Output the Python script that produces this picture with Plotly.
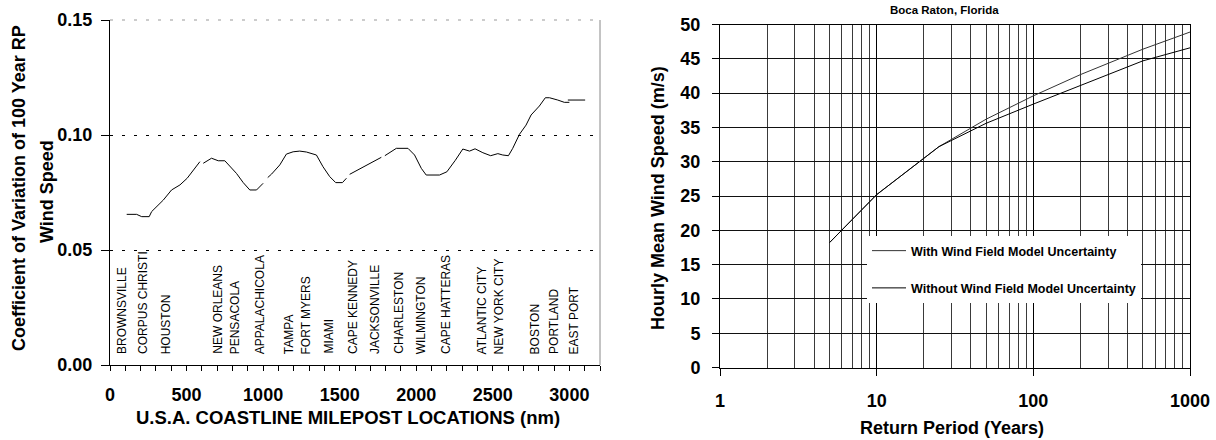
import plotly.graph_objects as go

FONT = "Arial, 'Liberation Sans', sans-serif"
W, H = 1216, 440

# ---------------- Left chart data ----------------
mile_nm = [109, 174, 207, 256, 272, 348, 402, 457, 504, 543, 587, None,
           609, 663, 707, 750, 826, 870, 913, 957, 1000, None,
           1030, 1055, 1109, 1152, 1196, 1239, 1283, 1348, 1391, 1435, 1474, 1518, 1544, None,
           1565, 1620, 1696, 1772, None,
           1795, 1870, 1946, 1989, 2033, 2065, 2152, 2200, 2255, 2304, 2348, 2384, 2435,
           2486, 2533, 2565, 2602, 2630, 2674, 2717, 2750, 2804, 2843, 2870, 2924, 2967, 3000, None,
           2990, 3103]
cov = [0.0655, 0.0655, 0.0645, 0.0645, 0.0667, 0.0717, 0.0761, 0.0783, 0.0812, 0.0848, 0.0884, None,
       0.0877, 0.0899, 0.0888, 0.0888, 0.0833, 0.0793, 0.0761, 0.0761, 0.0790, None,
       0.0815, 0.0830, 0.0870, 0.0917, 0.0927, 0.0930, 0.0926, 0.0913, 0.0862, 0.0819, 0.0793, 0.0793, 0.0812, None,
       0.0829, 0.0848, 0.0874, 0.0903, None,
       0.0910, 0.0942, 0.0942, 0.0913, 0.0855, 0.0826, 0.0826, 0.0840, 0.0890, 0.0939, 0.0930, 0.0940, 0.0923,
       0.0910, 0.0919, 0.0913, 0.0910, 0.0942, 0.1003, 0.1043, 0.1087, 0.1126, 0.1162, 0.1162, 0.1152, 0.1142, 0.1142, None,
       0.1152, 0.1152]

city_names = ["BROWNSVILLE", "CORPUS CHRISTI", "HOUSTON", "NEW ORLEANS", "PENSACOLA",
              "APPALACHICOLA", "TAMPA", "FORT MYERS", "MIAMI", "CAPE KENNEDY", "JACKSONVILLE",
              "CHARLESTON", "WILMINGTON", "CAPE HATTERAS", "ATLANTIC CITY", "NEW YORK CITY",
              "BOSTON", "PORTLAND", "EAST PORT"]
city_nm = [75, 212, 368, 700, 815, 978, 1170, 1283, 1424, 1587, 1728, 1885, 2033, 2191,
           2432, 2543, 2778, 2896, 3033]

left_x_ticks = list(range(0, 3201, 100))
left_x_labels = [str(v) if v % 500 == 0 else "" for v in left_x_ticks]
left_y_ticks = [0.0, 0.05, 0.10, 0.15]

# ---------------- Right chart data ----------------
return_period = [5, 10, 25, 50, 100, 200, 500, 1000]
speed_with = [18.2, 25.2, 32.2, 36.2, 39.6, 42.7, 46.4, 48.9]
speed_without = [18.2, 25.2, 32.2, 35.6, 38.4, 41.1, 44.7, 46.6]
rp_major = [1, 10, 100, 1000]
rp_minor = [m * d for d in (1, 10, 100) for m in range(2, 10)]

B = dict(family=FONT, size=18, color="black")

fig = go.Figure()

fig.add_trace(go.Scatter(x=mile_nm, y=cov, mode="lines", line=dict(color="black", width=1),
                         connectgaps=False, showlegend=False, xaxis="x", yaxis="y",
                         hoverinfo="skip"))

fig.add_trace(go.Scatter(x=return_period, y=speed_with, mode="lines",
                         name="<b>With Wind Field Model Uncertainty</b>",
                         line=dict(color="#333333", width=1), xaxis="x2", yaxis="y2",
                         legendgroup="a"))
fig.add_trace(go.Scatter(x=return_period, y=speed_without, mode="lines",
                         name="<b>Without Wind Field Model Uncertainty</b>",
                         line=dict(color="black", width=1), xaxis="x2", yaxis="y2",
                         legendgroup="b"))

lx = [110 / W, 600 / W]
ly = [1 - 365 / H, 1 - 20 / H]
rx = [720 / W, 1190 / W]
ry = [1 - 367.5 / H, 1 - 24.5 / H]

TF = dict(family=FONT, size=18, color="black", weight="bold")

fig.update_layout(
    width=W, height=H,
    margin=dict(l=0, r=0, t=0, b=0, autoexpand=False),
    paper_bgcolor="white", plot_bgcolor="white",
    font=dict(family=FONT, color="black"),
    xaxis=dict(domain=lx, range=[0, 3200], anchor="y", showgrid=False, zeroline=False,
               showline=True, linecolor="black", linewidth=1,
               tickmode="array", tickvals=left_x_ticks, ticktext=left_x_labels,
               ticks="outside", ticklen=5, tickcolor="black", ticklabelstandoff=8,
               tickfont=TF),
    xaxis3=dict(overlaying="x", anchor="y", range=[0, 3200], showgrid=False, zeroline=False,
                tickmode="array", tickvals=left_x_ticks, showticklabels=False,
                ticks="inside", ticklen=5, tickcolor="black", showline=False),
    yaxis=dict(domain=ly, range=[0, 0.15], anchor="x", zeroline=False,
               showline=True, linecolor="black", linewidth=1,
               tickmode="array", tickvals=left_y_ticks, tickformat=".2f",
               ticks="outside", ticklen=8, tickcolor="black", ticklabelstandoff=5,
               showgrid=True, gridcolor="black", gridwidth=1, griddash="3px,9px",
               tickfont=TF),
    xaxis2=dict(domain=rx, type="log", range=[0, 3], anchor="y2", zeroline=False,
                showline=True, linecolor="black", linewidth=1, mirror=True,
                tickmode="array", tickvals=rp_major, ticktext=[str(v) for v in rp_major],
                ticks="outside", ticklen=7, tickcolor="black", ticklabelstandoff=10,
                showgrid=True, gridcolor="black", gridwidth=1,
                minor=dict(tickmode="array", tickvals=rp_minor, showgrid=True,
                           gridcolor="#3a3a3a", gridwidth=1, ticks=""),
                tickfont=TF),
    yaxis2=dict(domain=ry, range=[0, 50], anchor="x2", zeroline=False,
                showline=True, linecolor="black", linewidth=1, mirror=True,
                dtick=5, tick0=0, ticks="outside", ticklen=7, tickcolor="black",
                ticklabelstandoff=8,
                showgrid=True, gridcolor="#111111", gridwidth=1,
                tickfont=TF),
    legend=dict(x=867 / W, y=1 - 236 / H, xanchor="left", yanchor="top",
                bgcolor="white", borderwidth=0, tracegroupgap=18,
                itemwidth=34, entrywidth=300,
                font=dict(family=FONT, size=12.5, color="black")),
    showlegend=True,
)

# frame lines of the left plot (grey right border, grey top dashed)
fig.add_shape(type="line", xref="x domain", yref="y domain", x0=1, x1=1, y0=0, y1=1,
              line=dict(color="#888888", width=1))
fig.add_shape(type="line", xref="x domain", yref="y domain", x0=0, x1=1, y0=1, y1=1,
              line=dict(color="#999999", width=1, dash="3px,9px"))

ann = []
for name, pos in zip(city_names, city_nm):
    ann.append(dict(x=pos, y=0, xref="x", yref="y", text=name, textangle=-90,
                    showarrow=False, xanchor="center", yanchor="bottom", yshift=9,
                    font=dict(family=FONT, size=12, color="black")))

ann += [
    dict(x=19 / W, y=1 - 188 / H, xref="paper", yref="paper", textangle=-90, showarrow=False,
         text="<b>Coefficient of Variation of 100 Year RP</b>", xanchor="center", yanchor="middle",
         font=B),
    dict(x=47 / W, y=1 - 192 / H, xref="paper", yref="paper", textangle=-90, showarrow=False,
         text="<b>Wind Speed</b>", xanchor="center", yanchor="middle", font=B),
    dict(x=348 / W, y=1 - 417 / H, xref="paper", yref="paper", showarrow=False,
         text="<b>U.S.A. COASTLINE MILEPOST LOCATIONS (nm)</b>", xanchor="center",
         yanchor="middle", font=dict(family=FONT, size=18.5, color="black")),
    dict(x=658 / W, y=1 - 198 / H, xref="paper", yref="paper", textangle=-90, showarrow=False,
         text="<b>Hourly Mean Wind Speed (m/s)</b>", xanchor="center", yanchor="middle", font=B),
    dict(x=952 / W, y=1 - 428 / H, xref="paper", yref="paper", showarrow=False,
         text="<b>Return Period (Years)</b>", xanchor="center", yanchor="middle", font=B),
    dict(x=944 / W, y=1 - 10 / H, xref="paper", yref="paper", showarrow=False,
         text="<b>Boca Raton, Florida</b>", xanchor="center", yanchor="middle",
         font=dict(family=FONT, size=11.5, color="black")),
]
fig.update_layout(annotations=ann)

fig.write_html("out.html")
